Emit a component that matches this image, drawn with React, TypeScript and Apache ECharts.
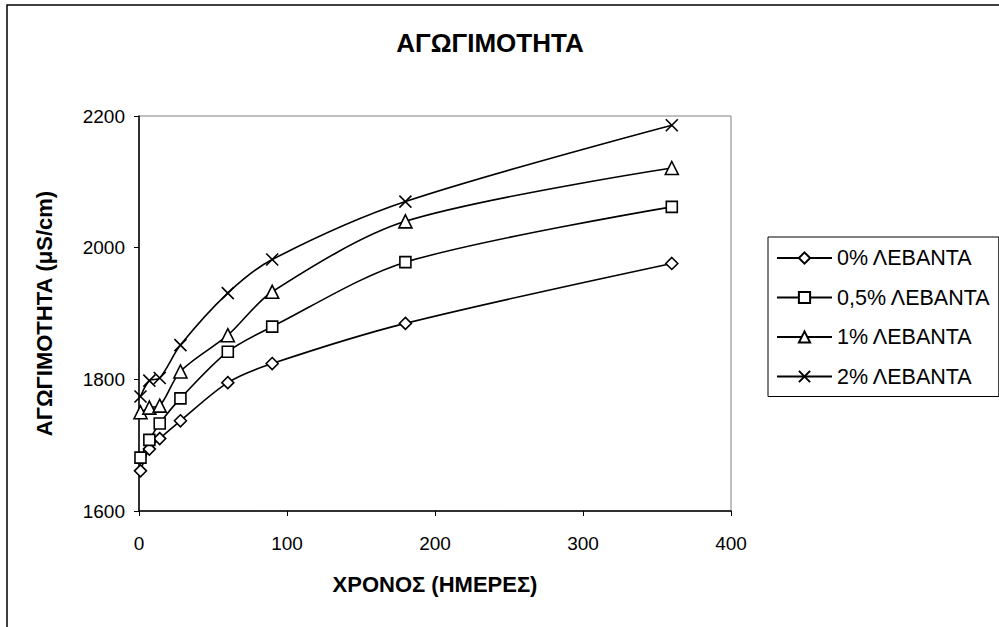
import React, { useEffect, useRef } from "react";
import * as echarts from "echarts";

// Storage time (days) and conductivity (μS/cm) for each lavender content
const days = [1, 7, 14, 28, 60, 90, 180, 360];
const lavender0 = [1661, 1694, 1710, 1737, 1795, 1824, 1885, 1976];
const lavender05 = [1681, 1708, 1733, 1771, 1842, 1880, 1978, 2062];
const lavender1 = [1750, 1757, 1760, 1812, 1867, 1933, 2040, 2121];
const lavender2 = [1774, 1798, 1802, 1852, 1931, 1982, 2070, 2186];

const seriesNames = ["0% ΛΕΒΑΝΤΑ", "0,5% ΛΕΒΑΝΤΑ", "1% ΛΕΒΑΝΤΑ", "2% ΛΕΒΑΝΤΑ"];
const seriesValues = [lavender0, lavender05, lavender1, lavender2];
const seriesSymbols = ["diamond", "rect", "triangle", "path://M0,0L10,10M10,0L0,10"];
const seriesSymbolSizes = [12, 11, 13, 12];

const FONT = "'Liberation Sans', Arial, sans-serif";

export default function App() {
  const ref = useRef<HTMLDivElement>(null);

  useEffect(() => {
    if (!ref.current) return;
    const chart = echarts.init(ref.current, null, { renderer: "svg" });

    const series = seriesNames.map((name, i) => ({
      name,
      type: "line",
      data: days.map((d, j) => [d, seriesValues[i][j]]),
      smooth: 0.3,
      symbol: seriesSymbols[i],
      symbolSize: seriesSymbolSizes[i],
      showAllSymbol: true,
      lineStyle: { color: "#000", width: 1.6 },
      itemStyle: { color: "#fff", borderColor: "#000", borderWidth: 1.6 },
      z: 3,
    }));

    chart.setOption({
      animation: false,
      backgroundColor: "#fff",
      textStyle: { fontFamily: FONT, color: "#000" },
      title: {
        text: "ΑΓΩΓΙΜΟΤΗΤΑ",
        left: 485,
        top: 25,
        textAlign: "center",
        textStyle: { fontFamily: FONT, fontSize: 26, fontWeight: "bold", color: "#000" },
      },
      graphic: [
        {
          type: "rect",
          shape: { x: 7, y: 5, width: 1100, height: 800 },
          style: { fill: "none", stroke: "#000", lineWidth: 1.5 },
          silent: true,
          z: -1,
        },
      ],
      grid: {
        left: 139,
        right: 268,
        top: 116,
        bottom: 116,
        show: true,
        borderColor: "#808080",
        borderWidth: 1,
        backgroundColor: "#fff",
      },
      legend: {
        orient: "vertical",
        left: 768,
        top: 237,
        padding: [10, 8, 9, 8],
        itemWidth: 55,
        itemHeight: 14,
        itemGap: 17.5,
        borderColor: "#000",
        borderWidth: 1,
        backgroundColor: "#fff",
        textStyle: { fontFamily: FONT, fontSize: 21.5, color: "#000", lineHeight: 20 },
        data: seriesNames,
      },
      xAxis: {
        type: "value",
        min: 0,
        max: 400,
        interval: 100,
        name: "ΧΡΟΝΟΣ (ΗΜΕΡΕΣ)",
        nameLocation: "middle",
        nameGap: 62,
        nameTextStyle: { fontFamily: FONT, fontSize: 22, fontWeight: "bold", color: "#000" },
        axisLine: { lineStyle: { color: "#000", width: 1.5 } },
        axisTick: { show: true, inside: false, length: 5, lineStyle: { color: "#000" } },
        axisLabel: { fontFamily: FONT, fontSize: 19, color: "#000", margin: 23 },
        splitLine: { show: false },
      },
      yAxis: {
        type: "value",
        min: 1600,
        max: 2200,
        interval: 200,
        name: "ΑΓΩΓΙΜΟΤΗΤΑ (μS/cm)",
        nameLocation: "middle",
        nameGap: 84,
        nameTextStyle: { fontFamily: FONT, fontSize: 22, fontWeight: "bold", color: "#000" },
        axisLine: { show: true, lineStyle: { color: "#000", width: 1.5 } },
        axisTick: { show: true, inside: false, length: 5, lineStyle: { color: "#000" } },
        axisLabel: {
          fontFamily: FONT,
          fontSize: 19,
          color: "#000",
          margin: 14,
          formatter: (v: number) => String(v),
        },
        splitLine: { show: false },
      },
      series,
    });

    return () => chart.dispose();
  }, []);

  return (
    <div
      ref={ref}
      style={{ position: "fixed", left: 0, top: 0, width: 999, height: 627 }}
    />
  );
}
